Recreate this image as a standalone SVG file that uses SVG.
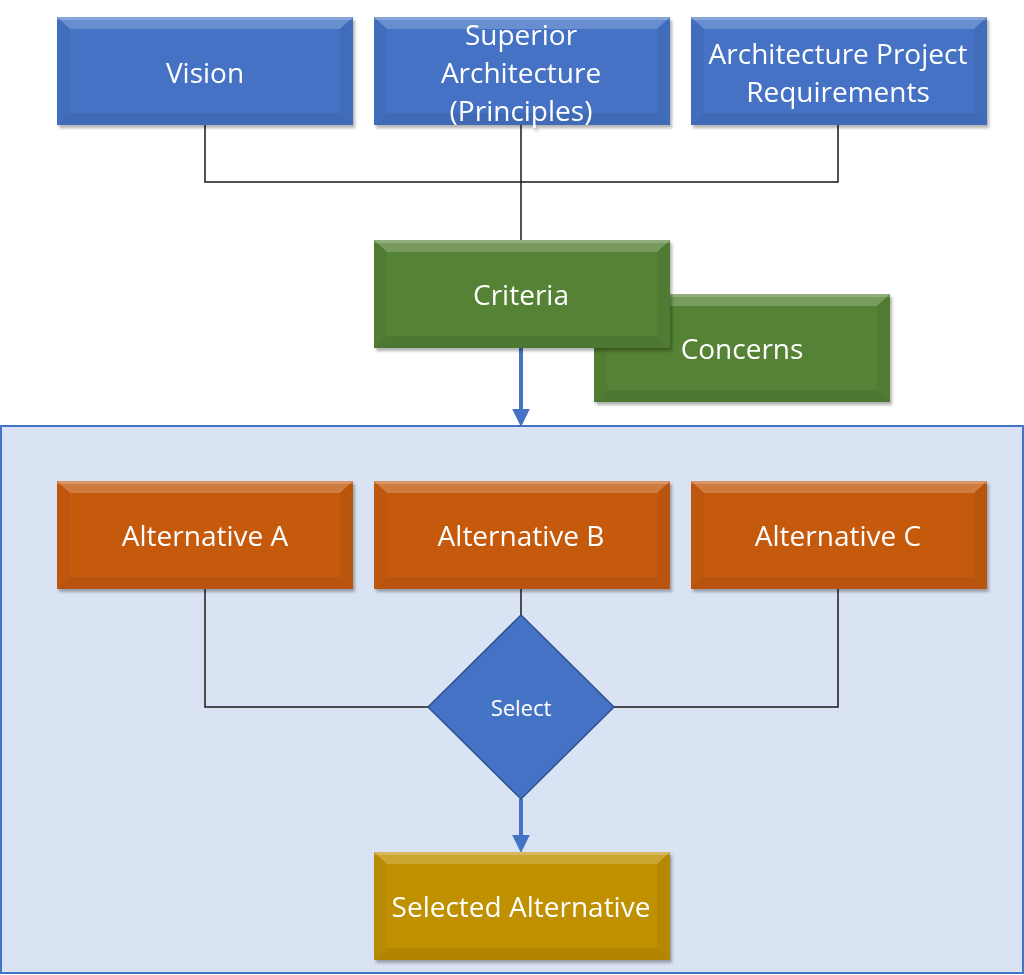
<svg xmlns="http://www.w3.org/2000/svg" xmlns:xlink="http://www.w3.org/1999/xlink" width="1024" height="975" viewBox="0 0 1024 975">
<style>
.lbl{font-family:"Open Sans","Noto Sans",sans-serif;font-size:28px;fill:#fff;text-anchor:middle;dominant-baseline:central}
.blue{fill:#4472c4}
.green{fill:#548235}
.orange{fill:#c55a11}
.gold{fill:#bf9000}
.conn{fill:none;stroke:#1a1a1a;stroke-width:1.5}
.arr{fill:none;stroke:#4472c4;stroke-width:4}
</style>
<defs>
<filter id="sh" x="-5%" y="-5%" width="115%" height="120%">
<feDropShadow dx="2" dy="3" stdDeviation="1.5" flood-color="#000" flood-opacity="0.3"/>
</filter>
<g id="bevel">
<polygon points="0,0 296,0 283,12 13,12" fill="#fff" fill-opacity="0.2"/>
<rect x="0" y="0" width="296" height="3" fill="#fff" fill-opacity="0.2"/>
<polygon points="0,0 13,12 13,96 0,108" fill="#000" fill-opacity="0.03"/>
<polygon points="296,0 283,12 283,96 296,108" fill="#000" fill-opacity="0.05"/>
<polygon points="0,108 13,96 283,96 296,108" fill="#000" fill-opacity="0.07"/>
</g>
<marker id="ah" markerWidth="4.5" markerHeight="4.4" refX="0" refY="2.2" orient="auto" markerUnits="strokeWidth">
<path d="M0,0 L4.5,2.2 L0,4.4 Z" fill="#4472c4"/>
</marker>
</defs>
<rect width="1024" height="975" fill="#fff"/>
<rect id="container" x="1" y="426" width="1022" height="547" fill="#dae3f3" stroke="#4472c4" stroke-width="2"/>
<g id="connectors">
<path class="conn" d="M205,125 V182 H838 V125"/>
<path class="conn" d="M521,125 V240"/>
<path class="conn" d="M205,588 V707 H428"/>
<path class="conn" d="M838,588 V707 H614"/>
<path class="conn" d="M521,588 V615"/>
<path class="arr" d="M521,347 V409" marker-end="url(#ah)"/>
<path class="arr" d="M521,799 V835" marker-end="url(#ah)"/>
</g>
<g id="vision" filter="url(#sh)">
<rect class="blue" x="57" y="17" width="296" height="108"/>
<use xlink:href="#bevel" x="57" y="17"/>
<text class="lbl" x="205" y="72">Vision</text>
</g>
<g id="superior" filter="url(#sh)">
<rect class="blue" x="374" y="17" width="296" height="108"/>
<use xlink:href="#bevel" x="374" y="17"/>
<text class="lbl" x="521" y="34">Superior</text>
<text class="lbl" x="521" y="72">Architecture</text>
<text class="lbl" x="521" y="110">(Principles)</text>
</g>
<g id="requirements" filter="url(#sh)">
<rect class="blue" x="691" y="17" width="296" height="108"/>
<use xlink:href="#bevel" x="691" y="17"/>
<text class="lbl" x="838" y="53">Architecture Project</text>
<text class="lbl" x="838" y="91">Requirements</text>
</g>
<g id="concerns" filter="url(#sh)">
<rect class="green" x="594" y="294" width="296" height="108"/>
<use xlink:href="#bevel" x="594" y="294"/>
<text class="lbl" x="742" y="348">Concerns</text>
</g>
<g id="criteria" filter="url(#sh)">
<rect class="green" x="374" y="240" width="296" height="108"/>
<use xlink:href="#bevel" x="374" y="240"/>
<text class="lbl" x="521" y="294">Criteria</text>
</g>
<g id="altA" filter="url(#sh)">
<rect class="orange" x="57" y="481" width="296" height="108"/>
<use xlink:href="#bevel" x="57" y="481"/>
<text class="lbl" x="205" y="535">Alternative A</text>
</g>
<g id="altB" filter="url(#sh)">
<rect class="orange" x="374" y="481" width="296" height="108"/>
<use xlink:href="#bevel" x="374" y="481"/>
<text class="lbl" x="521" y="535">Alternative B</text>
</g>
<g id="altC" filter="url(#sh)">
<rect class="orange" x="691" y="481" width="296" height="108"/>
<use xlink:href="#bevel" x="691" y="481"/>
<text class="lbl" x="838" y="535">Alternative C</text>
</g>
<g id="select">
<polygon points="521,615 614,707 521,799 428,707" fill="#4472c4" stroke="#2f528f" stroke-width="1.5"/>
<text class="lbl" x="521" y="707" style="font-size:22px">Select</text>
</g>
<g id="selected" filter="url(#sh)">
<rect class="gold" x="374" y="852" width="296" height="108"/>
<use xlink:href="#bevel" x="374" y="852"/>
<text class="lbl" x="521" y="906">Selected Alternative</text>
</g>
</svg>
